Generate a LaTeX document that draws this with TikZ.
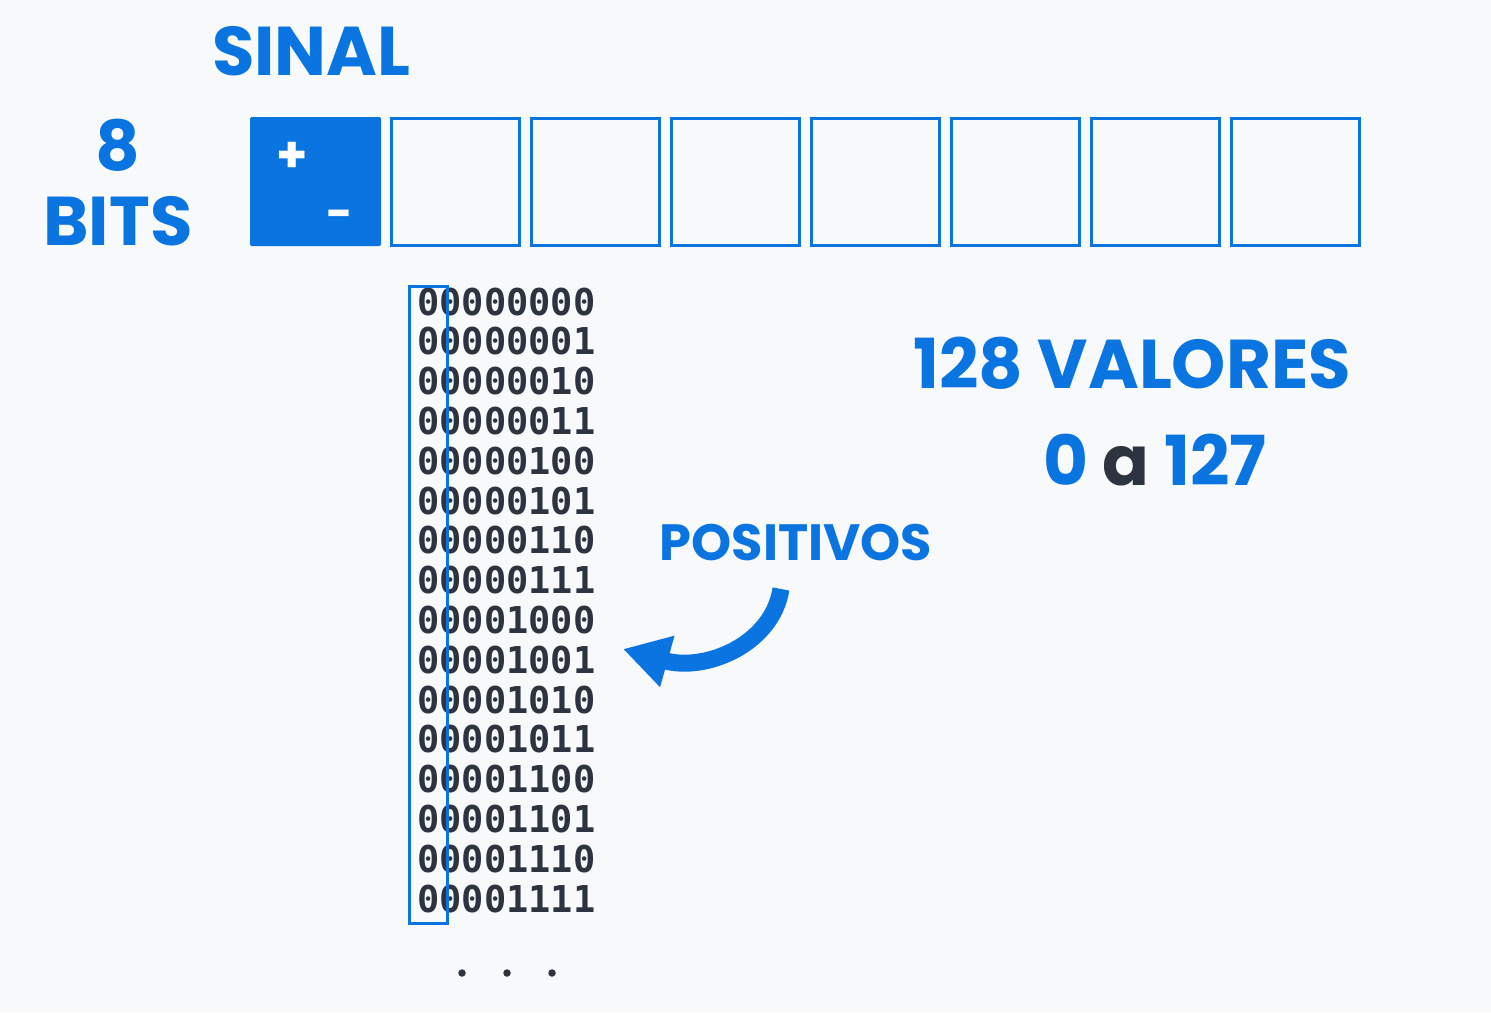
\documentclass[tikz,border=0pt]{standalone}
\usepackage{fontspec}
\setmainfont{Poppins}
\newfontfamily\monofnt{DejaVu Sans Mono Bold}
\usetikzlibrary{arrows.meta}
\definecolor{bgc}{RGB}{248,249,251}
\definecolor{blu}{RGB}{10,116,224}
\definecolor{ink}{RGB}{45,52,64}
\tikzset{
  bitbox/.style={draw=blu, line width=3pt, minimum width=128pt, minimum height=127pt, inner sep=0pt},
  signbox/.style={fill=blu, rounded corners=1.5pt, minimum width=131pt, minimum height=129pt, inner sep=0pt},
  bigtxt/.style={text=blu, font=\fontsize{69}{69}\selectfont\bfseries, inner sep=0pt},
  midtxt/.style={text=blu, font=\fontsize{51}{51}\selectfont\bfseries, inner sep=0pt},
  bintxt/.style={text=ink, font=\fontsize{37}{37}\monofnt, inner sep=0pt, anchor=base west},
  colbox/.style={draw=blu, line width=3pt, minimum width=38pt, minimum height=637pt, inner sep=0pt},
  dotc/.style={fill=ink, circle, minimum size=7.5pt, inner sep=0pt},
}
\begin{document}
\begin{tikzpicture}[x=1pt,y=-1pt]
\fill[bgc] (0,0) rectangle (1491,1012);
\useasboundingbox (0,0) rectangle (1491,1012);

% title and label
\node[bigtxt, anchor=base west] (sinal) at (212,75) {SINAL};
\node[bigtxt, anchor=base] (eight) at (118,170) {8};
\node[bigtxt, anchor=base] (bits) at (118,245) {BITS};

% bit boxes
\node[signbox] (b0) at (315.5,181.5) {};
\node[text=white, font=\fontsize{50}{50}\selectfont\bfseries, inner sep=0pt] (plus) at (292,157) {+};
\node[text=white, font=\fontsize{46}{46}\selectfont\bfseries, inner sep=0pt] (minus) at (340,220) {-};
\foreach \i in {1,...,7} {
  \node[bitbox] (b\i) at ({455+140*(\i-1)},181.5) {};
}

% binary list
\foreach \v [count=\k from 0] in {00000000,00000001,00000010,00000011,00000100,00000101,00000110,00000111,00001000,00001001,00001010,00001011,00001100,00001101,00001110,00001111} {
  \node[bintxt] (r\k) at (417,{315+39.8*\k}) {\v};
}
\node[colbox] (col) at (428.5,604.5) {};

% dots
\node[dotc] (d1) at (462,973) {};
\node[dotc] (d2) at (507,973) {};
\node[dotc] (d3) at (552,973) {};

% right texts
\node[bigtxt, anchor=base] (vals) at (1132,388) {128 VALORES};
\node[bigtxt, anchor=base] (range) at (1155,485) {0 \textcolor{ink}{a} 127};
\node[midtxt, anchor=base] (pos) at (796,560) {POSITIVOS};

% arrow
\coordinate (as) at (781,589);
\coordinate (ae) at (623,649);
\draw[blu, line width=17pt, -{Triangle[length=46pt,width=50pt]}]
  (as) .. controls (772,645) and (705,672) .. (ae);
\end{tikzpicture}
\end{document}
